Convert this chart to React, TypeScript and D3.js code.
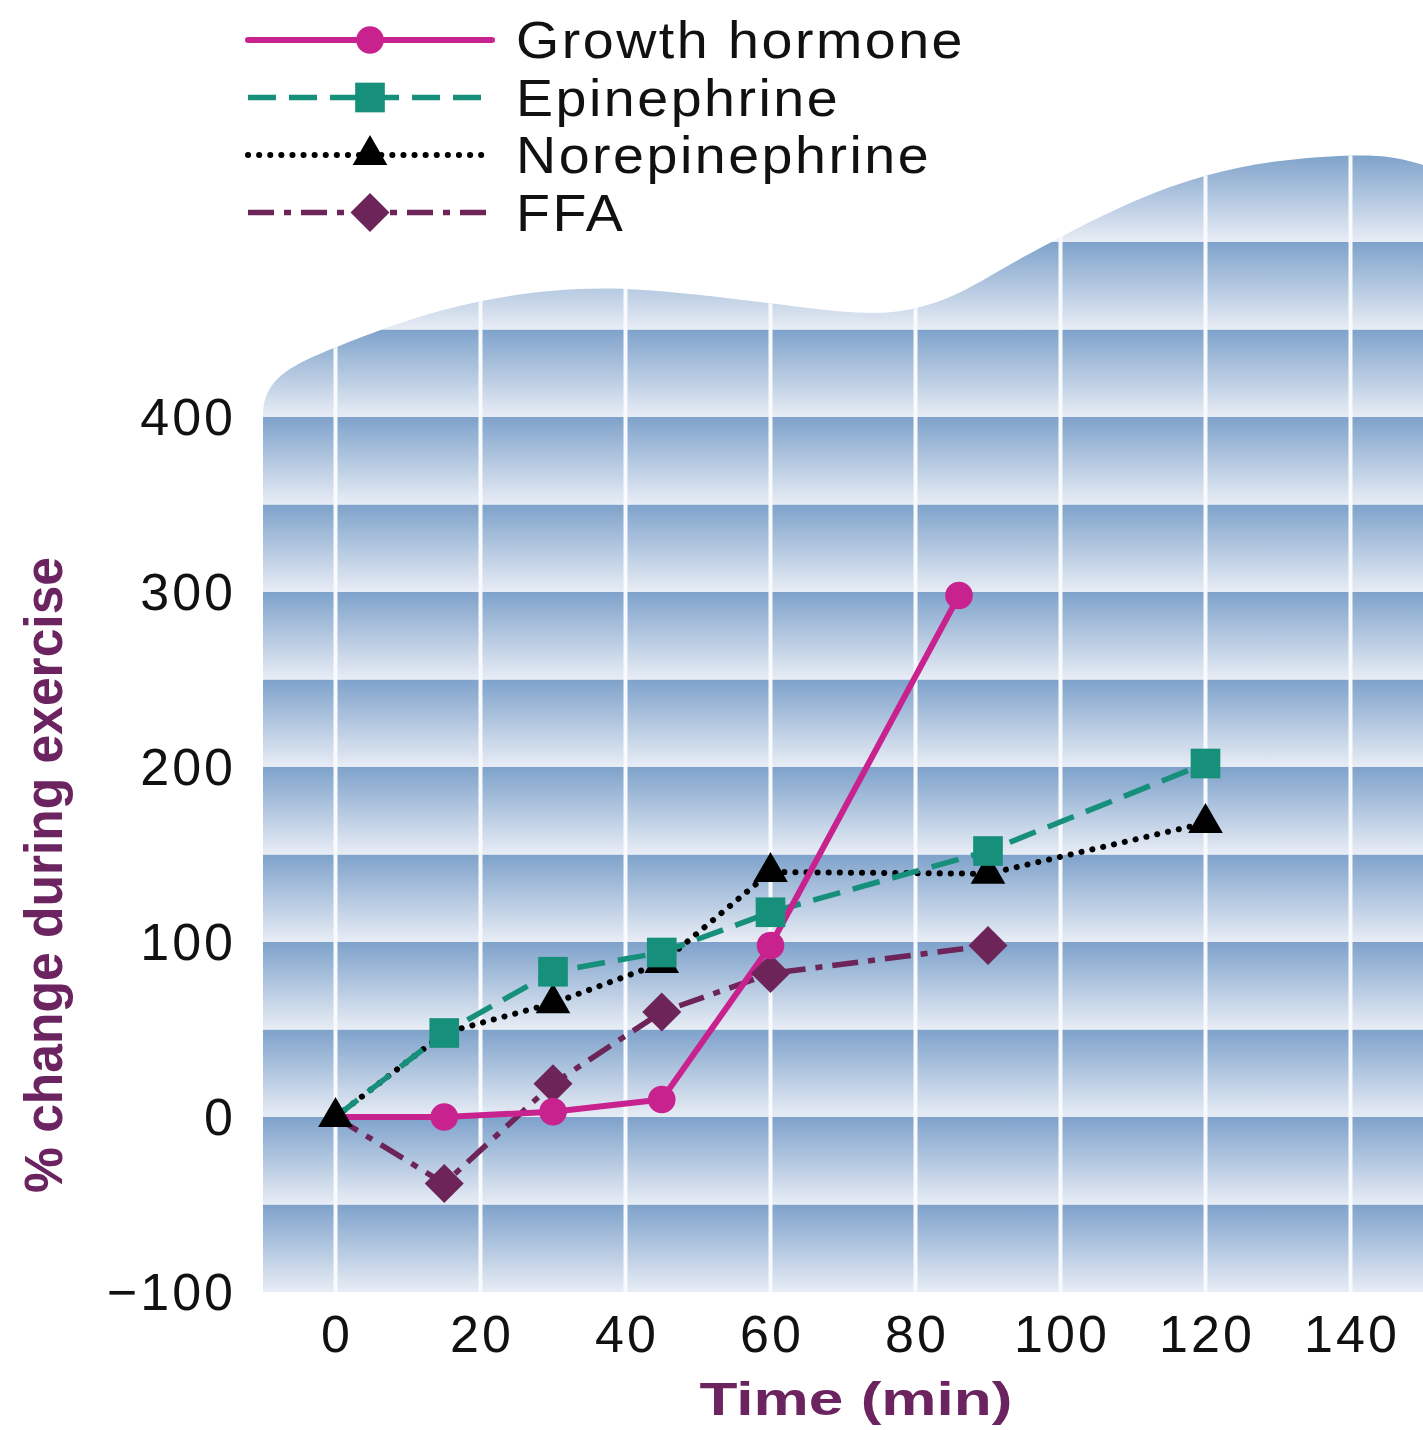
import * as d3 from "d3";

// values (% change during exercise vs minutes)
const ghTime = [0, 15, 30, 45, 60, 86];
const ghValue = [0, 0, 3, 10, 98, 298];
const epiTime = [0, 15, 30, 45, 60, 90, 120];
const epiValue = [0, 48, 83, 94, 117, 152, 202];
const neTime = [0, 15, 30, 45, 60, 90, 120];
const neValue = [0, 48, 65, 88, 140, 139, 168];
const ffaTime = [0, 15, 30, 45, 60, 90];
const ffaValue = [0, -38, 19, 60, 82, 98];

const xTicks = [0, 20, 40, 60, 80, 100, 120, 140];
const yTicks = [-100, 0, 100, 200, 300, 400];

// decorative wavy top of the backdrop, in (min, %) units
const waveTime = [-10, -10, -9, -7, -4, 0, 10, 20, 30, 40, 50, 60, 73, 80, 86, 92, 100, 110, 120, 130, 140, 146, 150];
const waveValue = [398, 408, 418, 426, 433, 440, 456, 467, 473, 474, 470, 465, 458, 461, 470, 485, 503, 524, 539, 547, 550, 549, 544];

const W = 1423;
const H = 1430;
const FONT = "'Liberation Sans', Arial, Helvetica, sans-serif";
const TITLE_COLOR = "#6b2460";

type Series = {
  name: string;
  times: number[];
  values: number[];
  color: string;
  dash: string;
  width: number;
  cap: "round" | "butt";
  symbol: d3.SymbolType;
  size: number;
  rotate: number;
  skip: number[]; // point indices drawn without a marker
};

// drawing order: later series sit on top
const series: Series[] = [
  { name: "FFA", times: ffaTime, values: ffaValue, color: "#6c2459", dash: "26 10 7 10", width: 5.5, cap: "butt", symbol: d3.symbolSquare, size: 760, rotate: 45, skip: [0] },
  { name: "Norepinephrine", times: neTime, values: neValue, color: "#000000", dash: "0.1 11", width: 6, cap: "round", symbol: d3.symbolTriangle, size: 520, rotate: 0, skip: [1] },
  { name: "Epinephrine", times: epiTime, values: epiValue, color: "#16907b", dash: "28 13", width: 5.5, cap: "butt", symbol: d3.symbolSquare, size: 880, rotate: 0, skip: [0] },
  { name: "Growth hormone", times: ghTime, values: ghValue, color: "#c8228f", dash: "", width: 6, cap: "round", symbol: d3.symbolCircle, size: 600, rotate: 0, skip: [0] },
];

const legendOrder = ["Growth hormone", "Epinephrine", "Norepinephrine", "FFA"];

export default function App() {
  const x = d3.scaleLinear().domain([-10, 150]).range([263, 1423]);
  const y = d3.scaleLinear().domain([-100, 400]).range([1292, 417]);

  const waveArea = d3
    .area<number>()
    .x((t) => x(t))
    .y0(() => y(-100))
    .y1((_t, i) => y(waveValue[i]))
    .curve(d3.curveBasis);
  const wavePath = waveArea(waveTime) || "";

  const bandStarts = d3.range(-100, 550, 50);

  const seriesPath = (s: Series) =>
    d3
      .line<number>()
      .x((t) => x(t))
      .y((_t, i) => y(s.values[i]))(s.times) || "";

  const symbolPath = (s: Series) => d3.symbol().type(s.symbol).size(s.size)() || "";

  // NE origin triangle goes on top of everything at t = 0
  const ne = series.find((s) => s.name === "Norepinephrine")!;

  return (
    <div style={{ position: "absolute", left: 0, top: 0 }}>
      <svg width={W} height={H} style={{ display: "block", background: "#fff" }}>
        <defs>
          <linearGradient id="band" x1="0" y1="0" x2="0" y2="1">
            <stop offset="0" stopColor="#7ea2cb" />
            <stop offset="1" stopColor="#e8edf5" />
          </linearGradient>
          <clipPath id="wave">
            <path d={wavePath} />
          </clipPath>
        </defs>

        <g clipPath="url(#wave)">
          {bandStarts.map((v) => (
            <rect
              key={v}
              x={x(-10)}
              y={y(v + 50)}
              width={x(150) - x(-10)}
              height={y(v) - y(v + 50)}
              fill="url(#band)"
            />
          ))}
          {xTicks.map((t) => (
            <line key={t} x1={x(t)} x2={x(t)} y1={0} y2={y(-100)} stroke="#f8fafd" strokeWidth={4} />
          ))}
        </g>

        {/* y tick labels */}
        {yTicks.map((v) => (
          <text
            key={v}
            x={236}
            y={y(v) + 18}
            textAnchor="end"
            fontFamily={FONT}
            fontSize={52}
            letterSpacing={3}
            fill="#111"
          >
            {v < 0 ? `\u2212${Math.abs(v)}` : v}
          </text>
        ))}

        {/* x tick labels */}
        {xTicks.map((t) => (
          <text
            key={t}
            x={x(t) + 1.5}
            y={1352}
            textAnchor="middle"
            fontFamily={FONT}
            fontSize={52}
            letterSpacing={3}
            fill="#111"
          >
            {t}
          </text>
        ))}

        {/* axis titles */}
        <text
          x={856}
          y={1415}
          textAnchor="middle"
          fontFamily={FONT}
          fontWeight="bold"
          fontSize={46}
          textLength={313}
          lengthAdjust="spacingAndGlyphs"
          fill={TITLE_COLOR}
        >
          Time (min)
        </text>
        <text
          transform={`translate(62,875) rotate(-90)`}
          textAnchor="middle"
          fontFamily={FONT}
          fontWeight="bold"
          fontSize={53}
          textLength={636}
          lengthAdjust="spacingAndGlyphs"
          fill={TITLE_COLOR}
        >
          % change during exercise
        </text>

        {/* series lines */}
        {series.map((s) => (
          <path
            key={s.name}
            d={seriesPath(s)}
            fill="none"
            stroke={s.color}
            strokeWidth={s.width}
            strokeDasharray={s.dash || undefined}
            strokeLinecap={s.cap}
            strokeLinejoin="round"
          />
        ))}

        {/* markers */}
        {series.map((s) =>
          s.times.map((t, i) =>
            s.skip.includes(i) || (s === ne && i === 0) ? null : (
              <path
                key={`${s.name}-${i}`}
                d={symbolPath(s)}
                transform={`translate(${x(t)},${y(s.values[i])}) rotate(${s.rotate})`}
                fill={s.color}
              />
            )
          )
        )}
        <path
          d={symbolPath(ne)}
          transform={`translate(${x(ne.times[0])},${y(ne.values[0])})`}
          fill={ne.color}
        />

        {/* legend */}
        {legendOrder.map((name, i) => {
          const s = series.find((d) => d.name === name)!;
          const cy = 40 + i * 57.5;
          return (
            <g key={name}>
              <line
                x1={248}
                x2={492}
                y1={cy}
                y2={cy}
                stroke={s.color}
                strokeWidth={s.width}
                strokeDasharray={s.dash || undefined}
                strokeLinecap={s.cap}
              />
              <path
                d={symbolPath(s)}
                transform={`translate(370,${cy}) rotate(${s.rotate})`}
                fill={s.color}
              />
              <text
                transform={`translate(516,${cy + 18}) scale(1.09,1)`}
                fontFamily={FONT}
                fontSize={51}
                letterSpacing={2.3}
                fill="#111"
              >
                {name}
              </text>
            </g>
          );
        })}
      </svg>
    </div>
  );
}
